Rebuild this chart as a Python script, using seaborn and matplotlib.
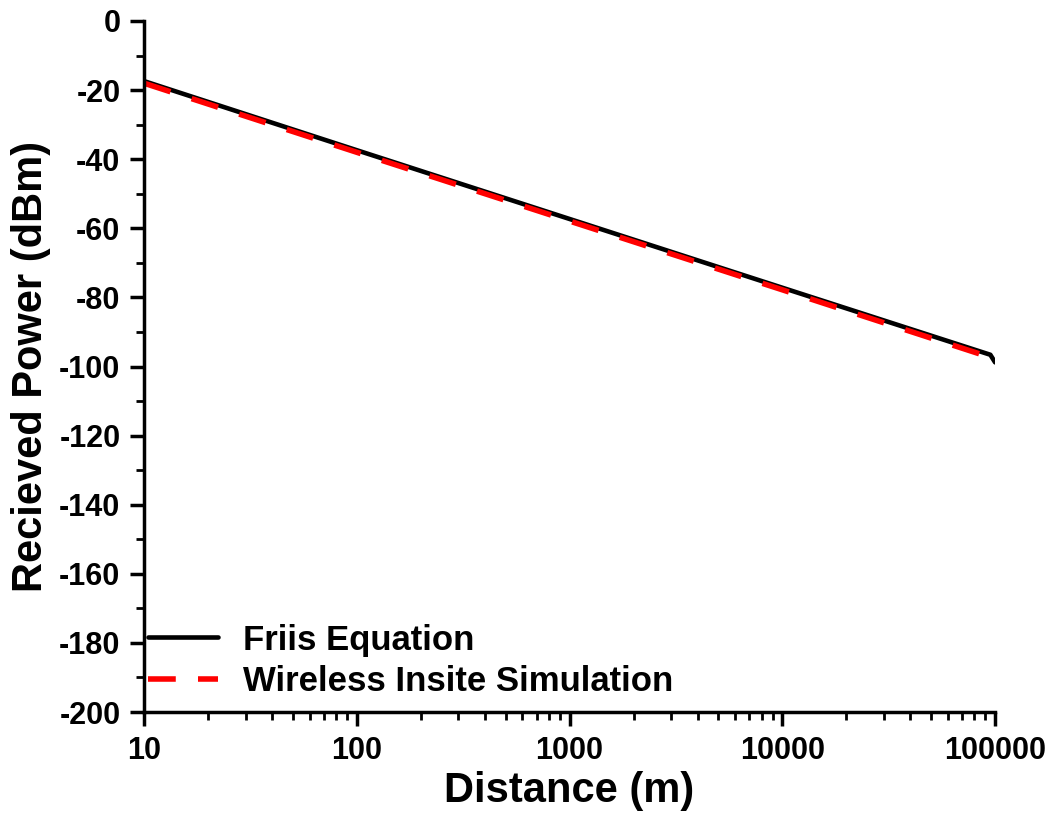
import numpy as np
import pandas as pd
import matplotlib
matplotlib.use("Agg")
import matplotlib.pyplot as plt
import seaborn as sns
from matplotlib.ticker import FixedLocator, LogLocator, NullFormatter

distance = [10, 100, 1000, 10000, 95000, 100000]
friis = [-17.4, -37.4, -57.3, -77.2, -96.6, -98.8]
sim_distance = [10, 100, 1000, 10000, 100000]
simulation = [-18.0, -38.0, -57.9, -77.8, -97.8]
series_names = ["Friis Equation", "Wireless Insite Simulation"]
x_ticks = [10, 100, 1000, 10000, 100000]
y_ticks = list(range(-200, 1, 20))

sns.set_style("ticks")
plt.rcParams['font.family'] = ['Liberation Sans', 'DejaVu Sans']
plt.rcParams['font.weight'] = 'bold'
plt.rcParams['text.color'] = 'black'
plt.rcParams['axes.labelcolor'] = 'black'

fig = plt.figure(figsize=(10.53, 8.17), dpi=100)
ax = fig.add_axes([0.1368, 0.1285, 0.8082, 0.8458])

df1 = pd.DataFrame({"Distance": distance, "Power": friis})
df2 = pd.DataFrame({"Distance": sim_distance, "Power": simulation})
sns.lineplot(data=df1, x="Distance", y="Power", ax=ax, color="black", lw=3.3,
             label=series_names[0])
sns.lineplot(data=df2, x="Distance", y="Power", ax=ax, color="#ff0000", lw=4,
             dashes=False, label=series_names[1])
ax.lines[1].set_dashes([5, 4])

ax.set_xscale("log")
ax.set_xlim(10, 100000)
ax.set_ylim(-200, 0)
ax.xaxis.set_major_locator(FixedLocator(x_ticks))
ax.set_xticklabels([str(t) for t in x_ticks])
ax.xaxis.set_minor_locator(LogLocator(base=10, subs=np.arange(2, 10)))
ax.xaxis.set_minor_formatter(NullFormatter())
ax.set_yticks(y_ticks)
ax.set_yticklabels([str(t) for t in y_ticks])
ax.yaxis.set_minor_locator(FixedLocator(list(range(-190, 0, 20))))

for s in ["top", "right"]:
    ax.spines[s].set_visible(False)
for s in ["left", "bottom"]:
    ax.spines[s].set_linewidth(2.5)
    ax.spines[s].set_color("black")

ax.tick_params(axis="both", which="major", direction="out", length=10, width=2.5,
               labelsize=22, colors="black", pad=7)
ax.tick_params(axis="both", which="minor", direction="out", length=6, width=2,
               colors="black")
for lab in ax.get_xticklabels() + ax.get_yticklabels():
    lab.set_fontweight("bold")

ax.set_xlabel("Distance (m)", fontsize=30, fontweight="bold", labelpad=4, color="black")
ax.set_ylabel("Recieved Power (dBm)", fontsize=30, fontweight="bold", labelpad=6, color="black")
ax.grid(False)

leg = ax.legend(loc="lower left", frameon=False, fontsize=25, handlelength=2.0,
                borderpad=0, borderaxespad=0, bbox_to_anchor=(0.005, 0.02),
                labelspacing=0.25, handletextpad=0.72)
for t in leg.get_texts():
    t.set_fontweight("bold")
    t.set_color("black")
leg.get_lines()[0].set_linewidth(3.3)
leg.get_lines()[1].set_dashes([5, 4])

fig.savefig("out.png", dpi=100, facecolor="white")
